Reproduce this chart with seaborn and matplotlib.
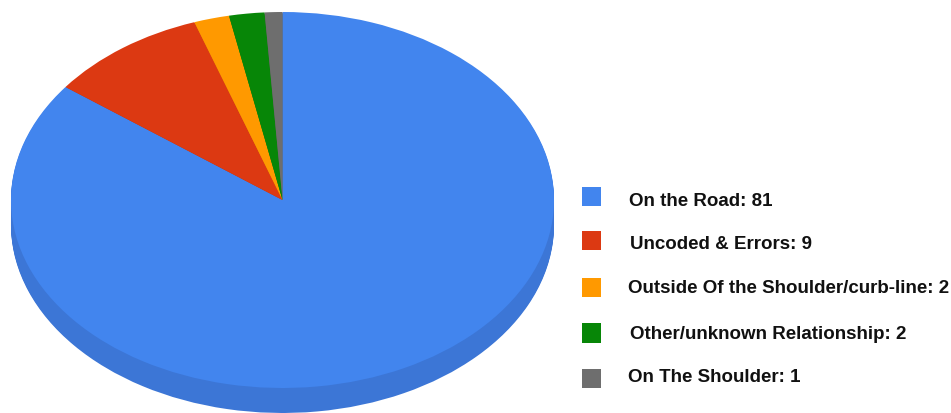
import matplotlib
matplotlib.use("Agg")
import matplotlib.pyplot as plt
from matplotlib.patches import Rectangle
from matplotlib.transforms import Affine2D
import seaborn as sns

sns.set_theme(style="white")
plt.rcParams['font.family'] = ['Liberation Sans', 'DejaVu Sans']

categories = ["On the Road", "Uncoded & Errors", "Outside Of the Shoulder/curb-line",
              "Other/unknown Relationship", "On The Shoulder"]
values = [81, 9, 2, 2, 1]
colors = ["#4285EE", "#DC3912", "#FF9900", "#078607", "#6E6E6E"]
side_colors = ["#3C76D6", "#B52F0F", "#D17F00", "#067506", "#5A5A5A"]

W, H = 951, 413
fig = plt.figure(figsize=(W / 100, H / 100), dpi=100, facecolor="white")
ax = fig.add_axes([0, 0, 1, 1])

cx, cy, rx, ry, depth = 282.5, 200, 271.5, 188, 25


def draw_disc(y_center, palette):
    wedges, _ = ax.pie(values, colors=palette, startangle=90, counterclock=False,
                       center=(cx, y_center), radius=1, frame=False,
                       wedgeprops=dict(linewidth=0, edgecolor="none", antialiased=True))
    for w in wedges:
        w.set_transform(Affine2D().translate(-cx, -y_center).scale(rx, -ry)
                        .translate(cx, y_center) + ax.transData)


# side of the disc: stacked copies of the pie, drawn from the bottom up
for d in range(depth, 0, -1):
    draw_disc(cy + d, side_colors)
draw_disc(cy, colors)

ax.set_aspect("auto")
ax.set_xlim(0, W)
ax.set_ylim(H, 0)
ax.axis("off")

label_x = [629, 630, 628.3, 629.7, 628.3]
label_y = [205.7, 249, 293.3, 339, 381.7]
box_y = [196.7, 240.5, 287.5, 333, 378.5]
for name, val, col, lx, ly, by in zip(categories, values, colors, label_x, label_y, box_y):
    ax.add_patch(Rectangle((581.5, by - 9.7), 19.3, 19.4, facecolor=col, edgecolor="none"))
    ax.text(lx, ly, f"{name}: {val}", fontsize=13.5, fontweight="bold",
            color="#111111", va="baseline", ha="left")

fig.savefig("out.png", dpi=100)
